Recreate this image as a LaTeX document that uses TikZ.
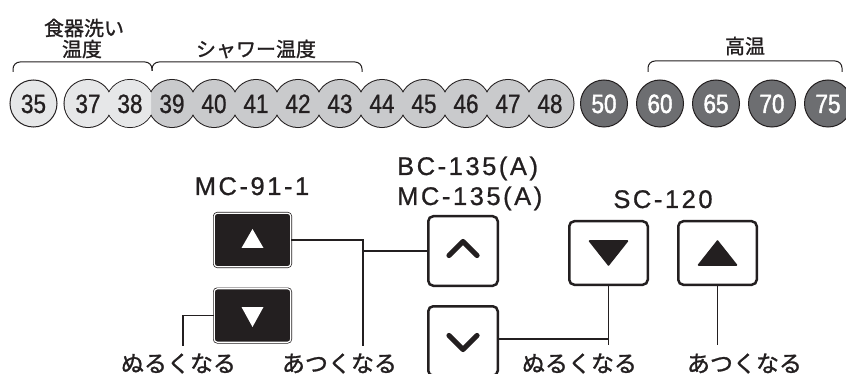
\documentclass[tikz,border=0pt]{standalone}
\usepackage{fontspec}
\setmainfont{Liberation Sans}
\newfontfamily\jpf[FakeBold=1.2]{Noto Sans CJK JP}
\newfontfamily\numf[FakeStretch=0.85,FakeBold=0.8]{Liberation Sans}
\newfontfamily\numwf[FakeStretch=0.85,FakeBold=1.6]{Liberation Sans}
\newfontfamily\latf[LetterSpace=10,FakeBold=0.8]{Liberation Sans}
\usetikzlibrary{calc}
\definecolor{inkc}{HTML}{231F20}
\definecolor{lightc}{HTML}{E6E7E8}
\definecolor{midc}{HTML}{C9CACC}
\definecolor{darkc}{HTML}{6D6E71}
\begin{document}
\begin{tikzpicture}[x=1pt,y=-1pt,
  numtxt/.style={font=\numf\fontsize{26.5}{26.5}\selectfont, anchor=base, inner sep=0pt, text=inkc},
  numwhite/.style={numtxt, font=\numwf\fontsize{26.5}{26.5}\selectfont, text=white},
  jptop/.style={font=\jpf\fontsize{20}{20}\selectfont, inner sep=0pt, text=inkc},
  jpbot/.style={font=\jpf\fontsize{23}{23}\selectfont, inner sep=0pt, text=inkc},
  model/.style={font=\latf\fontsize{25.5}{25.5}\selectfont, anchor=base, inner sep=0pt, text=inkc},
  mcbtn/.style={draw=inkc, double=white, double distance=1.2pt, line width=0.7pt, fill=inkc, rounded corners=3pt, minimum width=76.4pt, minimum height=53.4pt, inner sep=0pt},
  bcbtn/.style={draw=inkc, line width=2.5pt, rounded corners=5pt, fill=white, minimum width=69.5pt, minimum height=69.5pt, inner sep=0pt},
  scbtn/.style={draw=inkc, line width=2.5pt, rounded corners=5pt, fill=white, minimum width=78.5pt, minimum height=63.5pt, inner sep=0pt},
  conn/.style={draw=inkc, line width=1.3pt},
  brace/.style={draw=inkc, line width=1pt, rounded corners=7pt},
  chev/.style={draw=inkc, line width=5.2pt, line cap=round, line join=round},
  circout/.style={draw=inkc, line width=1pt}
]
\useasboundingbox (0,0) rectangle (846,374);
\fill[white] (0,0) rectangle (846,374);

% ---- temperature circles ----
\draw[circout, fill=lightc] (33.5,103.5) circle (23.5pt);
% chain 37..48: outline then fills
\foreach \x in {88,130,172,214,256,298,340,382,424,466,508,550}
  \draw[draw=inkc, line width=2pt] (\x,103.5) circle (23.5pt);
\foreach \x in {88,130}
  \fill[lightc] (\x,103.5) circle (23.5pt);
\foreach \x in {172,214,256,298,340,382,424,466,508,550}
  \fill[midc] (\x,103.5) circle (23.5pt);
\begin{scope}
  \clip (100,70) rectangle (151,140);
  \fill[lightc] (130,103.5) circle (23.5pt);
\end{scope}
\foreach \x in {604,660,716,772,828}
  \draw[circout, fill=darkc] (\x,103.5) circle (23.5pt);

\node[numtxt] (n35) at (33.5,113) {35};
\node[numtxt] (n37) at (88,113) {37};
\node[numtxt] (n38) at (130,113) {38};
\node[numtxt] (n39) at (172,113) {39};
\node[numtxt] (n40) at (214,113) {40};
\node[numtxt] (n41) at (256,113) {41};
\node[numtxt] (n42) at (298,113) {42};
\node[numtxt] (n43) at (340,113) {43};
\node[numtxt] (n44) at (382,113) {44};
\node[numtxt] (n45) at (424,113) {45};
\node[numtxt] (n46) at (466,113) {46};
\node[numtxt] (n47) at (508,113) {47};
\node[numtxt] (n48) at (550,113) {48};
\node[numwhite] (n50) at (604,113) {50};
\node[numwhite] (n60) at (660,113) {60};
\node[numwhite] (n65) at (716,113) {65};
\node[numwhite] (n70) at (772,113) {70};
\node[numwhite] (n75) at (828,113) {75};

% ---- braces ----
\draw[brace] (13,72) -- (13,62) -- (152,62) -- (152,71);
\draw[brace] (152,71) -- (152,62) -- (362,62) -- (362,72);
\draw[brace] (648,72) -- (648,61) -- (842,61) -- (842,72);

\node[jptop] (lab1a) at (84,28) {食器洗い};
\node[jptop] (lab1b) at (82,49) {温度};
\node[jptop] (lab2) at (256,49) {シャワー温度};
\node[jptop] (lab3) at (745,46) {高温};

% ---- model labels ----
\node[model] (mc91) at (252,195) {MC-91-1};
\node[model, anchor=base west] (bc135) at (397,175) {BC-135(A)};
\node[model, anchor=base west] (mc135) at (397,205) {MC-135(A)};
\node[model] (sc120) at (663,208) {SC-120};

% ---- buttons ----
\node[mcbtn] (mcup) at (252.5,240) {};
\node[mcbtn] (mcdown) at (252.5,315.5) {};
\fill[white] ($(mcup)+(0,-11)$) -- ($(mcup)+(11,8)$) -- ($(mcup)+(-11,8)$) -- cycle;
\fill[white] ($(mcdown)+(-11,-8.5)$) -- ($(mcdown)+(11,-8.5)$) -- ($(mcdown)+(0,11.5)$) -- cycle;

\node[bcbtn] (bcup) at (463,251) {};
\node[bcbtn] (bcdown) at (463,341) {};
\draw[chev] ($(bcup)+(-14,4.5)$) -- ($(bcup)+(0,-9.5)$) -- ($(bcup)+(14,4.5)$);
\draw[chev] ($(bcdown)+(-14,-5.5)$) -- ($(bcdown)+(0,8.5)$) -- ($(bcdown)+(14,-5.5)$);

\node[scbtn] (scdown) at (608.5,253) {};
\node[scbtn] (scup) at (717.5,253) {};
\fill[inkc, draw=inkc, line width=1.5pt, line join=round] ($(scdown)+(-19,-12)$) -- ($(scdown)+(19,-12)$) -- ($(scdown)+(0,12)$) -- cycle;
\fill[inkc, draw=inkc, line width=1.5pt, line join=round] ($(scup)+(0,-12)$) -- ($(scup)+(19,12)$) -- ($(scup)+(-19,12)$) -- cycle;

% ---- bottom labels ----
\node[jpbot] (l1) at (178.5,363.5) {ぬるくなる};
\node[jpbot] (l2) at (339.5,363.5) {あつくなる};
\node[jpbot] (l3) at (579.5,363.5) {ぬるくなる};
\node[jpbot] (l4) at (744.5,363.5) {あつくなる};

% ---- connectors ----
\coordinate (ja) at (363,346);
\coordinate (jb) at (183,346);
\draw[conn] (mcup.east) -| (ja);
\draw[conn] (bcup.west) -- (bcup.west -| ja);
\draw[conn] (mcdown.west) -| (jb);
\coordinate (jc) at (608.5,345);
\coordinate (jd) at (717.5,345);
\draw[conn] (scdown.south) -- (jc);
\draw[conn] (scup.south) -- (jd);
\draw[conn] ($(bcdown.east)+(0,-2)$) -- ($(bcdown.east -| jc)+(0,-2)$);
\end{tikzpicture}
\end{document}
